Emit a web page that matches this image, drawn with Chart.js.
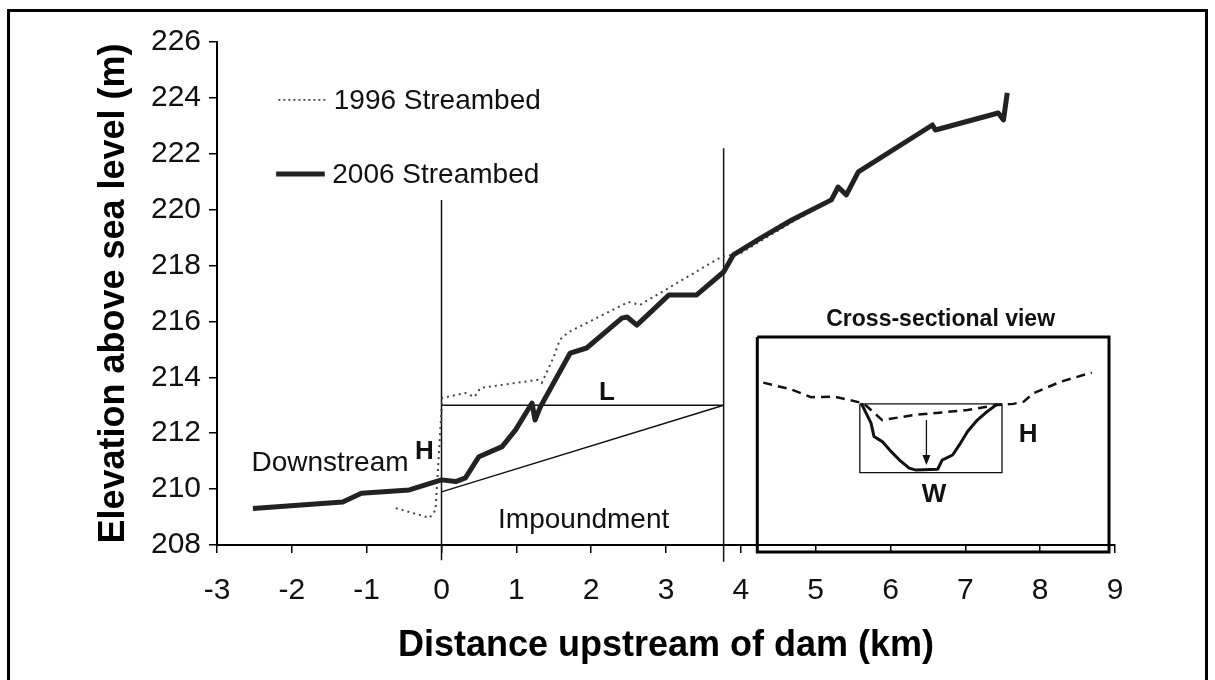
<!DOCTYPE html>
<html>
<head>
<meta charset="utf-8">
<script src="https://cdn.jsdelivr.net/npm/chart.js@4.4.1/dist/chart.umd.min.js"></script>
<style>
  html, body { margin: 0; padding: 0; background: #fff; }
  #wrap { position: relative; width: 1215px; height: 680px; overflow: hidden; }
  #frame { position: absolute; left: 7px; top: 9px; width: 1201px; height: 720px; border: 3px solid #000; box-sizing: border-box; pointer-events: none; }
  canvas { position: absolute; left: 0; top: 0; }
</style>
</head>
<body>
<div id="wrap">
  <canvas id="profileChart" width="1215" height="680"></canvas>
  <div id="frame"></div>
</div>
<script>
const xTickValues = [-3, -2, -1, 0, 1, 2, 3, 4, 5, 6, 7, 8, 9]
const yTickValues = [208, 210, 212, 214, 216, 218, 220, 222, 224, 226]

// 2006 streambed profile (km upstream, m above sea level)
const dist2006 = [-2.52, -1.32, -1.07, -0.43, 0.0, 0.19, 0.32, 0.50, 0.81, 0.99, 1.21, 1.25, 1.32, 1.72, 1.94, 2.41, 2.48, 2.61, 3.04, 3.41, 3.77, 3.90, 4.27, 4.68, 5.21, 5.30, 5.41, 5.57, 6.56, 6.60, 7.44, 7.51, 7.56]
const elev2006 = [209.31, 209.54, 209.85, 209.97, 210.33, 210.27, 210.40, 211.16, 211.52, 212.12, 213.08, 212.47, 212.94, 214.87, 215.05, 216.12, 216.16, 215.87, 216.95, 216.95, 217.77, 218.38, 218.99, 219.63, 220.35, 220.81, 220.53, 221.35, 223.03, 222.85, 223.46, 223.21, 224.18]

// 1996 streambed profile
const dist1996 = [-0.61, -0.16, -0.08, 0.01, 0.32, 0.44, 0.52, 0.81, 1.28, 1.34, 1.50, 1.58, 1.70, 2.50, 2.65, 3.74, 4.00, 4.68, 4.95]
const elev1996 = [209.32, 208.97, 209.25, 213.26, 213.44, 213.30, 213.62, 213.73, 213.91, 213.80, 214.73, 215.34, 215.62, 216.70, 216.59, 218.31, 218.45, 219.55, 219.95]

// dam, end of impoundment, length L and slope lines
const damLineX = [0, 0]
const damLineY = [207.45, 220.35]
const poolEndX = [3.77, 3.77]
const poolEndY = [207.4, 222.2]
const lengthLineX = [0, 3.77]
const lengthLineY = [213, 213]
const slopeLineX = [0, 3.77]
const slopeLineY = [209.9, 213]

// cross-section inset, in the same units as the main plot
const insetBoxX = [4.22, 8.92, 8.92, 4.22, 4.22]
const insetBoxY = [215.44, 215.44, 207.75, 207.75, 215.44]
const groundX = [4.30, 4.67, 4.94, 5.25, 5.64, 5.89, 6.31, 7.03, 7.43, 7.64, 7.78, 7.91, 8.27, 8.69]
const groundY = [213.81, 213.57, 213.29, 213.31, 213.07, 212.47, 212.65, 212.83, 213.01, 213.05, 213.13, 213.43, 213.84, 214.17]
const channelX = [5.61, 5.74, 5.78, 5.89, 6.01, 6.12, 6.25, 6.34, 6.63, 6.69, 6.83, 6.92, 7.03, 7.16, 7.29, 7.43]
const channelY = [213.07, 212.36, 211.88, 211.70, 211.34, 211.04, 210.75, 210.68, 210.71, 211.04, 211.22, 211.58, 212.06, 212.47, 212.77, 213.05]
const channelBoxX = [5.59, 7.49, 7.49, 5.59, 5.59]
const channelBoxY = [213.05, 213.05, 210.59, 210.59, 213.05]
const depthArrowX = [6.48, 6.48]
const depthArrowY = [212.47, 210.93]

const toPoints = (xs, ys) => xs.map((x, i) => ({ x: x, y: ys[i] }))

const line = (label, xs, ys, opts) => Object.assign({
  label: label,
  data: toPoints(xs, ys),
  borderColor: '#111',
  borderWidth: 1.5,
  pointRadius: 0,
  fill: false,
  tension: 0,
  clip: false,
  order: 2
}, opts)

const annotations = [
  { text: 'Downstream', x: -1.49, y: 210.93, bold: false, size: 28 },
  { text: 'H', x: -0.23, y: 211.34, bold: true, size: 26 },
  { text: 'L', x: 2.21, y: 213.43, bold: true, size: 26 },
  { text: 'Impoundment', x: 1.90, y: 208.9, bold: false, size: 28 },
  { text: 'Cross-sectional view', x: 6.67, y: 216.05, bold: true, size: 23 },
  { text: 'H', x: 7.84, y: 211.94, bold: true, size: 26 },
  { text: 'W', x: 6.58, y: 209.79, bold: true, size: 26 }
]

const legendItems = [
  { text: '1996 Streambed', x0: -2.18, x1: -1.54, tx: -1.44, y: 223.93, width: 1.8, dash: [2, 3] },
  { text: '2006 Streambed', x0: -2.21, x1: -1.56, tx: -1.46, y: 221.28, width: 5, dash: [] }
]

const FONT = "'Liberation Sans', Arial, Helvetica, sans-serif"
Chart.defaults.font.family = FONT

const overlay = {
  id: 'overlay',
  afterDatasetsDraw(chart) {
    const { ctx, scales: { x, y } } = chart
    ctx.save()
    ctx.fillStyle = '#111'
    ctx.textAlign = 'center'
    ctx.textBaseline = 'middle'
    annotations.forEach(a => {
      ctx.font = (a.bold ? 'bold ' : '') + a.size + 'px ' + FONT
      ctx.fillText(a.text, x.getPixelForValue(a.x), y.getPixelForValue(a.y))
    })

    // arrow head on the depth arrow
    const ax = x.getPixelForValue(depthArrowX[1])
    const ay = y.getPixelForValue(depthArrowY[1])
    ctx.beginPath()
    ctx.moveTo(ax, ay + 2)
    ctx.lineTo(ax - 4, ay - 8)
    ctx.lineTo(ax + 4, ay - 8)
    ctx.closePath()
    ctx.fill()

    // legend
    ctx.textAlign = 'left'
    ctx.font = '28px ' + FONT
    legendItems.forEach(l => {
      const ly = y.getPixelForValue(l.y)
      ctx.beginPath()
      ctx.setLineDash(l.dash)
      ctx.lineWidth = l.width
      ctx.strokeStyle = l.dash.length ? '#444' : '#222'
      ctx.moveTo(x.getPixelForValue(l.x0), ly)
      ctx.lineTo(x.getPixelForValue(l.x1), ly)
      ctx.stroke()
      ctx.setLineDash([])
      ctx.fillText(l.text, x.getPixelForValue(l.tx), ly + 1)
    })
    ctx.restore()
  }
}

const ctx = document.getElementById('profileChart').getContext('2d')
const chart = new Chart(ctx, {
  type: 'line',
  data: {
    datasets: [
      line('2006 Streambed', dist2006, elev2006, { borderColor: '#222', borderWidth: 5, order: 0, borderJoinStyle: 'round' }),
      line('1996 Streambed', dist1996, elev1996, { borderColor: '#444', borderWidth: 2, borderDash: [2, 4], order: 1 }),
      line('dam', damLineX, damLineY, {}),
      line('pool end', poolEndX, poolEndY, {}),
      line('L', lengthLineX, lengthLineY, {}),
      line('slope', slopeLineX, slopeLineY, {}),
      line('inset', insetBoxX, insetBoxY, { borderWidth: 3, borderColor: '#000' }),
      line('ground', groundX, groundY, { borderWidth: 2.5, borderDash: [9, 6] }),
      line('channel', channelX, channelY, { borderWidth: 3, borderJoinStyle: 'round' }),
      line('channel box', channelBoxX, channelBoxY, { borderWidth: 1.3 }),
      line('depth', depthArrowX, depthArrowY, { borderWidth: 1.3 })
    ]
  },
  options: {
    responsive: false,
    animation: false,
    events: [],
    layout: { padding: { left: 80, right: 100, top: 42, bottom: 0 }, autoPadding: false },
    plugins: {
      legend: { display: false },
      tooltip: { enabled: false }
    },
    scales: {
      x: {
        type: 'linear',
        min: -3,
        max: 9,
        afterBuildTicks: s => { s.ticks = xTickValues.map(v => ({ value: v })) },
        afterFit: s => { s.height = 135 },
        ticks: { font: { size: 30 }, color: '#111', padding: 20, maxRotation: 0, autoSkip: false },
        grid: { drawOnChartArea: false, tickLength: 8, color: '#000', lineWidth: 1.5 },
        border: { color: '#000', width: 2 },
        title: {
          display: true,
          text: 'Distance upstream of dam (km)',
          font: { size: 36, weight: 'bold' },
          color: '#000',
          padding: { top: 0, bottom: 12 }
        }
      },
      y: {
        type: 'linear',
        min: 208,
        max: 226,
        afterBuildTicks: s => { s.ticks = yTickValues.map(v => ({ value: v })) },
        afterFit: s => { s.width = 137 },
        ticks: { font: { size: 30 }, color: '#111', padding: 8, autoSkip: false },
        grid: { drawOnChartArea: false, tickLength: 8, color: '#000', lineWidth: 1.5 },
        border: { color: '#000', width: 2 },
        title: {
          display: true,
          text: 'Elevation above sea level (m)',
          font: { size: 36, weight: 'bold' },
          color: '#000',
          padding: { top: 12, bottom: 0 }
        }
      }
    }
  },
  plugins: [overlay]
})
</script>
</body>
</html>
